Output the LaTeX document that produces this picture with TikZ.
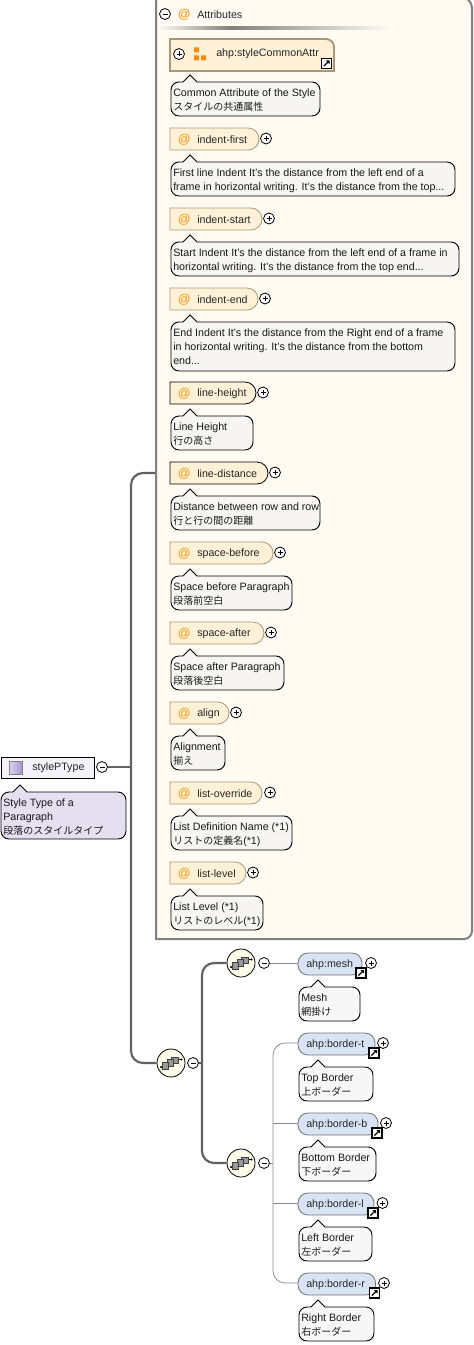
\documentclass[tikz,border=0pt]{standalone}
\usepackage{fontspec}
\setmainfont{Liberation Sans}
\newfontfamily\cjk{Noto Sans CJK JP}
\newcommand{\jp}[1]{{\cjk\fontsize{7.5pt}{10.5pt}\selectfont #1}}
\begin{document}
\begin{tikzpicture}[x=0.75pt,y=-0.75pt,
  txt/.style={font=\fontsize{8pt}{11pt}\selectfont,inner sep=0pt,text=black!85,anchor=west,yshift=-0.6pt},
  doctxt/.style={font=\fontsize{8pt}{10.5pt}\selectfont,inner sep=0pt,text=black!90,anchor=north west,align=left},
  trunk/.style={draw=black!62,line width=1.6pt,rounded corners=9pt},
  thin/.style={draw=black!45,line width=0.6pt,rounded corners=9pt},
  pm/.style={circle,draw=black,fill=white,line width=0.6pt,minimum size=8.2pt,inner sep=0pt},
  seq/.style={circle,draw=black,fill=yellow!8,line width=0.6pt,minimum size=21pt,inner sep=0pt}]
\useasboundingbox (0,0) rectangle (474,1345);
\definecolor{attrfill}{HTML}{FFF0D8}
\definecolor{elfill}{HTML}{D8E4F6}
\definecolor{panelfill}{HTML}{FFFAF2}
\definecolor{attrline}{HTML}{A89878}
\definecolor{docfill}{HTML}{F6F5F2}
\definecolor{rootdoc}{HTML}{E4E0F0}
\definecolor{rootfill}{HTML}{F4F2FA}
\definecolor{icolight}{HTML}{DCD4F0}
\definecolor{icodark}{HTML}{A596D2}
\newcommand{\pmark}[3]{\node[pm] (#1) at (#2,#3) {};\draw[line width=0.5pt] (#2-2.5,#3) -- (#2+2.5,#3) (#2,#3-2.5) -- (#2,#3+2.5);}
\newcommand{\mmark}[3]{\node[pm] (#1) at (#2,#3) {};\draw[line width=0.5pt] (#2-2.5,#3) -- (#2+2.5,#3);}
\newcommand{\docbox}[7][docfill]{% fill, name, x1,y1,x2,y2, text
  \draw[fill=#1,draw=black,line width=0.7pt] (#3+8,#4) -- (#3+12,#4) -- (#3+19,#4-7) -- (#3+26,#4) -- (#5-8,#4)
    arc[start angle=-90,end angle=0,radius=8] -- (#5,#6-8) arc[start angle=0,end angle=90,radius=8] -- (#3+8,#6)
    arc[start angle=90,end angle=180,radius=8] -- (#3,#4+8) arc[start angle=180,end angle=270,radius=8] -- cycle;
  \node[doctxt] (#2) at (#3+2,#4+6.5) {#7};}
\newcommand{\attr}[6][attrline]{% line col, name,x2,y,text,plusx
  \draw[fill=attrfill,draw=#1,line width=0.6pt] (170,#4) -- (#3-10,#4) arc[start angle=-90,end angle=0,radius=11] arc[start angle=0,end angle=90,radius=11] -- (170,#4+22) -- cycle;
  \node[txt,text=orange!85!yellow,font=\fontsize{9.5pt}{11pt}\selectfont] (#2at) at (177.5,#4+11) {@};
  \node[txt] (#2) at (197,#4+11) {#5};
  \pmark{#2p}{#6}{#4+10.5}}
\newcommand{\linkic}[3]{\node[draw=black,fill=white,line width=0.8pt,minimum size=7.5pt,inner sep=0pt] (#1) at (#2,#3) {};
  \draw[black,line width=0.9pt] (#2-2.6,#3+2.6) -- (#2+2.2,#3-2.2);\fill[black] (#2+3,#3-3) -- (#2-0.6,#3-3) -- (#2+3,#3+0.6) -- cycle;}
\newcommand{\el}[5]{% name,x2,y,text,plusx
  \draw[fill=elfill,draw=black!55,line width=0.6pt,rounded corners=7.5pt] (298,#3) rectangle (#2,#3+22);
  \node[txt] (#1) at (306,#3+11) {#4};
  \linkic{#1l}{#2-1}{#3+20}
  \pmark{#1p}{#5}{#3+10}}
\newcommand{\seqic}[3]{\node[seq] (#1) at (#2,#3) {};
  \begin{scope}[shift={(#2,#3)}]
  \draw[line width=0.6pt] (-10,4) -- (-8,4) (6,-3.5) -- (10.5,-3.5);
  \fill (-10,4) circle[radius=1.2] (10.5,-3.5) circle[radius=1.2];
  \draw[fill=black!40,draw=black!75,line width=0.6pt] (0.7,-6) rectangle ++(6.5,6.5);
  \draw[fill=black!40,draw=black!75,line width=0.6pt] (-4,-3.5) rectangle ++(6.5,6.5);
  \draw[fill=black!40,draw=black!75,line width=0.6pt] (-8.7,-0.5) rectangle ++(6.5,6.5);
  \end{scope}}

% panel
\draw[fill=panelfill,draw=black!50,line width=1.5pt] (156,-5) -- (156,939) -- (464,939) arc[start angle=90,end angle=0,radius=8] -- (472,8) arc[start angle=0,end angle=-90,radius=11] -- cycle;
\node[inner sep=0pt,minimum width=54pt,minimum height=1.6pt,anchor=west,left color=panelfill,right color=black!50] (rulea) at (158,28) {};
\node[inner sep=0pt,minimum width=120pt,minimum height=1.6pt,anchor=west,left color=black!50,right color=panelfill] (ruleb) at (230,28) {};
\mmark{am}{165}{14}
\node[txt,text=orange!85!yellow,font=\fontsize{9.5pt}{11pt}\selectfont] (aat) at (177.5,14) {@};
\node[txt] (atitle) at (197,14) {Attributes};

% group
\draw[fill=attrfill,draw=attrline,line width=1.4pt] (170,39) -- (326,39) arc[start angle=-90,end angle=0,radius=8] -- (334,71) -- (170,71) -- cycle;
\pmark{gp}{179}{54}
\fill[orange!90!yellow] (194,47.5) rectangle (199,52.5) (194,55.5) rectangle (199,60.5) (201,55.5) rectangle (206,60.5);
\node[txt] (gname) at (216,53) {ahp:styleCommonAttr};
\linkic{gl}{326.5}{63.5}
\docbox{gd}{171}{82}{320}{116}{Common Attribute of the Style\\\jp{スタイルの共通属性}}

\attr{ifirst}{258}{128}{indent-first}{266}
\docbox{ifirstd}{171}{162}{455}{196}{First line Indent It's the distance from the left end of a\\frame in horizontal writing. It's the distance from the top...}
\attr{istart}{261}{208}{indent-start}{269}
\docbox{istartd}{171}{242}{459}{276}{Start Indent It's the distance from the left end of a frame in\\horizontal writing. It's the distance from the top end...}
\attr{iend}{257}{288}{indent-end}{265}
\docbox{iendd}{171}{322}{455}{371}{End Indent It's the distance from the Right end of a frame\\in horizontal writing. It's the distance from the bottom\\end...}
\attr[black]{lh}{255}{382}{line-height}{263}
\docbox{lhd}{171}{416}{253}{450}{Line Height\\\jp{行の高さ}}
\attr[black]{ld}{267}{462}{line-distance}{275}
\docbox{ldd}{171}{496}{320}{530}{Distance between row and row\\\jp{行と行の間の距離}}
\attr{sb}{272}{542}{space-before}{280}
\docbox{sbd}{171}{576}{292}{610}{Space before Paragraph\\\jp{段落前空白}}
\attr{sa}{263}{622}{space-after}{271}
\docbox{sad}{171}{656}{284}{690}{Space after Paragraph\\\jp{段落後空白}}
\attr{al}{228}{702}{align}{236}
\docbox{ald}{171}{736}{225}{770}{Alignment\\\jp{揃え}}
\attr{lo}{261}{782}{list-override}{270}
\docbox{lod}{171}{816}{292}{850}{List Definition Name (*1)\\\jp{リストの定義名}(*1)}
\attr{ll}{245}{862}{list-level}{253}
\docbox{lld}{171}{896}{263}{930}{List Level (*1)\\\jp{リストのレベル}(*1)}

% root
\node[draw=black,fill=rootfill,line width=0.7pt,minimum width=70pt,minimum height=16pt,inner sep=0pt,anchor=north west] (root) at (1,757) {};
\shade[left color=icolight,right color=icodark,draw=black!50,line width=0.3pt] (9,761) rectangle (22,774);
\node[txt] (rootname) at (32,767) {stylePType};
\mmark{rootm}{102}{767}
\docbox[rootdoc]{rootd}{1}{792}{126}{839}{Style Type of a\\Paragraph\\\jp{段落のスタイルタイプ}}

% sequences
\coordinate (pin) at (155,473);
\seqic{s0}{171}{1063}
\mmark{s0m}{193}{1063}
\seqic{s1}{241}{963}
\mmark{s1m}{264}{963}
\seqic{s2}{241}{1163}
\mmark{s2m}{264}{1163}

% connectors
\draw[trunk] (rootm.east) -- (131,767);
\draw[trunk] (pin) -- (131,473) -- (131,1063) -- (s0.west);
\draw[trunk] (s0m.east) -- (202,1063);
\draw[trunk] (s1.west) -- (202,963) -- (202,1163) -- (s2.west);

% elements
\el{mesh}{362}{953}{ahp:mesh}{371}
\docbox[white!97!black]{meshd}{299}{987}{360}{1021}{Mesh\\\jp{網掛け}}
\el{bt}{375}{1033}{ahp:border-t}{383}
\docbox[white!97!black]{btd}{299}{1067}{373}{1101}{Top Border\\\jp{上ボーダー}}
\el{bb}{378}{1113}{ahp:border-b}{386}
\docbox[white!97!black]{bbd}{299}{1147}{376}{1181}{Bottom Border\\\jp{下ボーダー}}
\el{bl}{374}{1193}{ahp:border-l}{382.5}
\docbox[white!97!black]{bld}{299}{1227}{372}{1261}{Left Border\\\jp{左ボーダー}}
\el{br}{375.5}{1273}{ahp:border-r}{384}
\docbox[white!97!black]{brd}{299}{1307}{374}{1341}{Right Border\\\jp{右ボーダー}}

\draw[thin] (s1m.east) -- (298,963);
\coordinate (b1) at (298,1043);
\coordinate (b2) at (298,1123);
\coordinate (b3) at (298,1203);
\coordinate (b4) at (298,1283);
\draw[thin] (s2m.east) -- (273,1163);
\draw[thin] (b1) -- (273,1043) -- (273,1283) -- (b4);
\draw[thin] (273,1123) -- (b2);
\draw[thin] (273,1203) -- (b3);
\end{tikzpicture}
\end{document}
